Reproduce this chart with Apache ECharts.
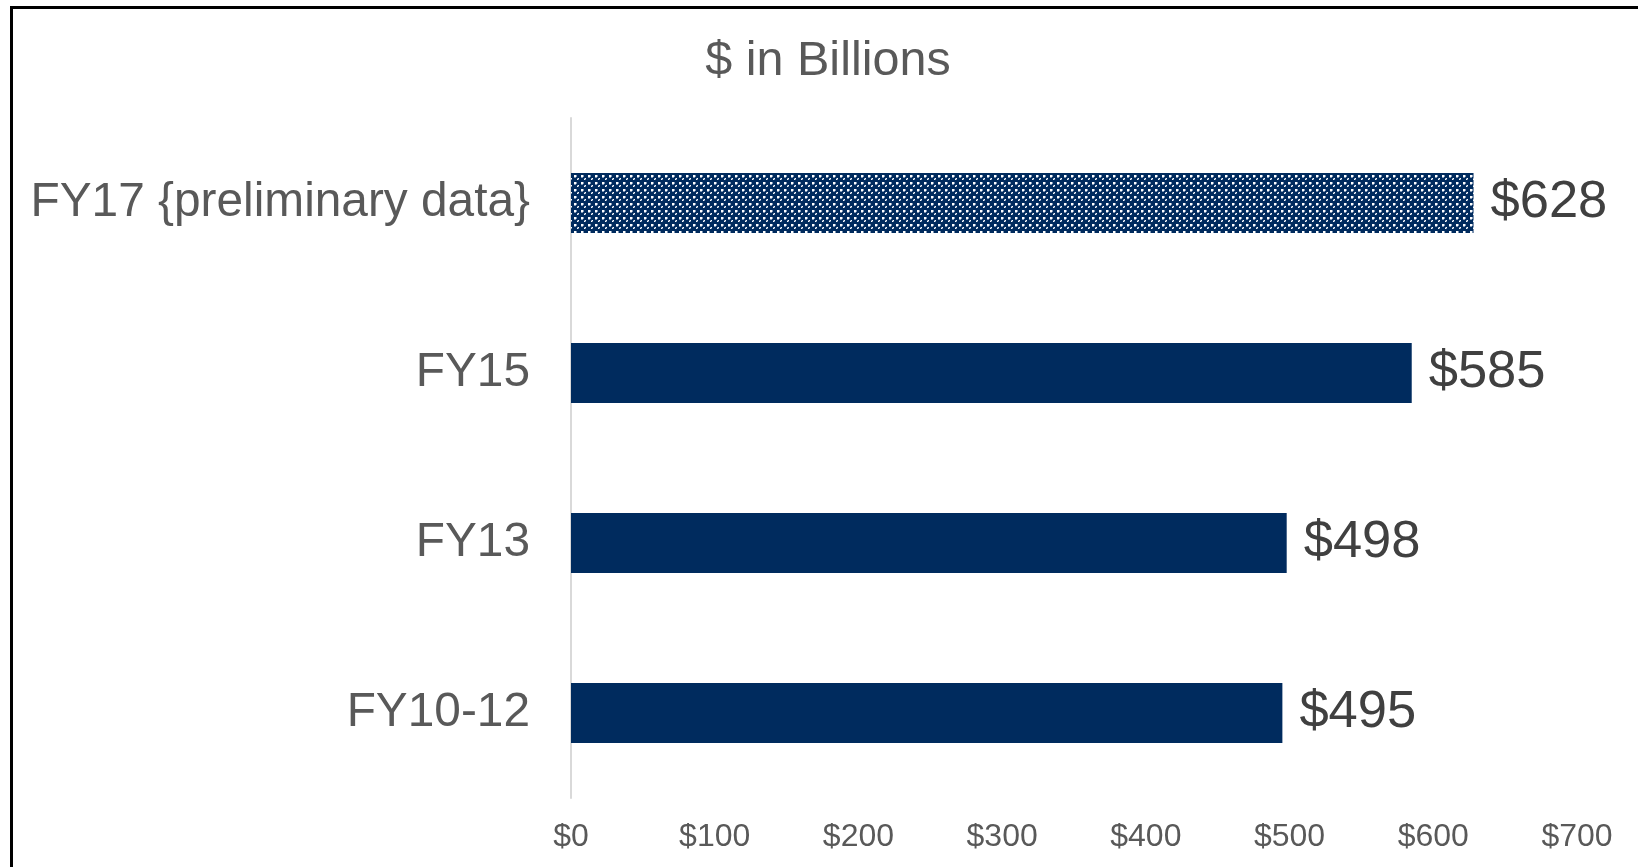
<!DOCTYPE html>
<html>
<head>
<meta charset="utf-8">
<script src="https://cdn.jsdelivr.net/npm/echarts@6/dist/echarts.min.js"></script>
<style>
  html, body { margin: 0; padding: 0; background: #fff; }
  #chart { width: 1638px; height: 867px; }
</style>
</head>
<body>
<div id="chart"></div>
<script>
// Spending by fiscal period, $ in billions
const categories = ['FY10-12', 'FY13', 'FY15', 'FY17 {preliminary data}'];
const amounts = [495, 498, 585, 628];
const preliminary = [false, false, false, true];
const tickValues = [0, 100, 200, 300, 400, 500, 600, 700];

const NAVY = '#002b5e';

// Small repeating tile used to mark the preliminary figure
function makePattern() {
  const c = document.createElement('canvas');
  c.width = 7; c.height = 7;
  const g = c.getContext('2d');
  g.fillStyle = NAVY;
  g.fillRect(0, 0, 7, 7);
  g.fillStyle = '#ffffff';
  g.fillRect(0, 0, 2, 2);
  g.fillRect(4, 3, 1, 1);
  g.fillRect(3, 4, 1, 1);
  g.fillStyle = '#7f95b3';
  g.fillRect(2, 0, 1, 2);
  g.fillRect(0, 2, 2, 1);
  g.fillRect(4, 4, 1, 1);
  g.fillRect(3, 3, 1, 1);
  return c;
}
const pattern = { image: makePattern(), repeat: 'repeat' };

const chart = echarts.init(document.getElementById('chart'), null, { renderer: 'canvas' });
const FONT = '"Liberation Sans", Arial, sans-serif';

chart.setOption({
  animation: false,
  textStyle: { fontFamily: FONT },
  title: {
    text: '$ in Billions',
    left: 823,
    top: 32,
    textAlign: 'center',
    textStyle: { fontSize: 48.5, fontWeight: 'normal', color: '#595959', fontFamily: FONT }
  },
  grid: { left: 571, right: 61, top: 118, bottom: 69, containLabel: false },
  xAxis: {
    type: 'value',
    min: 0,
    max: 700,
    interval: 100,
    axisLine: { show: false },
    axisTick: { show: false },
    splitLine: { show: false },
    axisLabel: {
      margin: 23,
      fontSize: 32,
      color: '#595959',
      fontFamily: FONT,
      formatter: v => tickValues.includes(v) ? '$' + v : ''
    }
  },
  yAxis: {
    type: 'category',
    data: categories,
    axisLine: { show: true, lineStyle: { color: '#d9d9d9', width: 2 } },
    axisTick: { show: false },
    axisLabel: { margin: 41, fontSize: 47.8, color: '#595959', fontFamily: FONT, padding: [4, 0, 0, 0] }
  },
  series: [{
    type: 'bar',
    barWidth: 60,
    data: amounts.map((v, i) => ({
      value: v,
      itemStyle: { color: preliminary[i] ? pattern : NAVY }
    })),
    label: {
      show: true,
      position: 'right',
      distance: 17,
      fontSize: 52.5,
      color: '#404040',
      fontFamily: FONT,
      formatter: p => '$' + p.value
    }
  }],
  graphic: [{
    type: 'polyline',
    silent: true,
    shape: { points: [[11.5, 867], [11.5, 7.5], [1638, 7.5]] },
    style: { stroke: '#000', lineWidth: 3, fill: null }
  }]
});
</script>
</body>
</html>
